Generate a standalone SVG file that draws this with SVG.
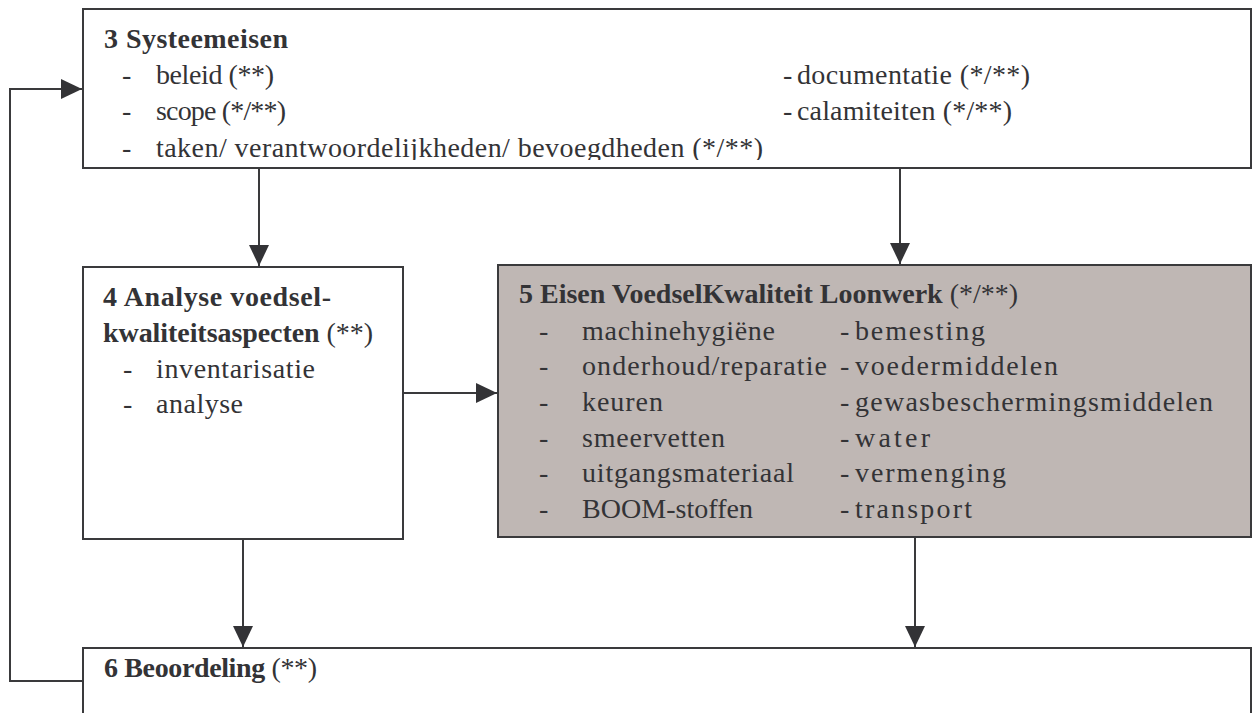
<svg xmlns="http://www.w3.org/2000/svg" width="1255" height="713" viewBox="0 0 1255 713">
<style>
.box{fill:#ffffff;stroke:#3a3a3c;stroke-width:2}
.shaded{fill:#bfb7b4}
.t{font-family:"Liberation Serif","Times New Roman",serif;font-size:28px;fill:#333336}
.b{font-weight:bold}
.con{fill:none;stroke:#3a3a3c;stroke-width:2}
</style>
<defs>
<marker id="ah" markerUnits="userSpaceOnUse" markerWidth="22" markerHeight="20" refX="21" refY="10" orient="auto">
<path d="M0,0 L21,10 L0,20 z" fill="#333336"/>
</marker>
<clipPath id="c3"><rect x="84" y="10" width="1166" height="150"/></clipPath>
</defs>
<g id="connectors">
<line class="con" x1="259" y1="168" x2="259" y2="266" marker-end="url(#ah)"/>
<line class="con" x1="900" y1="168" x2="900" y2="264" marker-end="url(#ah)"/>
<line class="con" x1="403" y1="393" x2="497" y2="393" marker-end="url(#ah)"/>
<line class="con" x1="243" y1="539" x2="243" y2="647" marker-end="url(#ah)"/>
<line class="con" x1="915" y1="537" x2="915" y2="647" marker-end="url(#ah)"/>
<polyline class="con" points="83,681 10,681 10,89 82,89" marker-end="url(#ah)"/>
</g>
<g id="node3">
<rect class="box" x="83" y="9" width="1168" height="159"/>
<text class="t b" x="104" y="48" textLength="184">3 Systeemeisen</text>
<g clip-path="url(#c3)">
<text class="t" x="122" y="84">-</text>
<text class="t" x="156" y="84" textLength="118">beleid (**)</text>
<text class="t" x="122" y="120">-</text>
<text class="t" x="156" y="120" textLength="130">scope (*/**)</text>
<text class="t" x="122" y="157">-</text>
<text class="t" x="156" y="157" textLength="607">taken/ verantwoordelijkheden/ bevoegdheden (*/**)</text>
<text class="t" x="783" y="84">-</text>
<text class="t" x="797" y="84" textLength="233">documentatie (*/**)</text>
<text class="t" x="783" y="120">-</text>
<text class="t" x="797" y="120" textLength="215">calamiteiten (*/**)</text>
</g>
</g>
<g id="node4">
<rect class="box" x="83" y="267" width="320" height="272"/>
<text class="t b" x="103" y="306" textLength="228">4 Analyse voedsel-</text>
<text class="t" x="103" y="342" textLength="270"><tspan class="b">kwaliteitsaspecten</tspan> (**)</text>
<text class="t" x="123" y="378">-</text>
<text class="t" x="156" y="378" textLength="159">inventarisatie</text>
<text class="t" x="123" y="413">-</text>
<text class="t" x="156" y="413" textLength="87">analyse</text>
</g>
<g id="node5">
<rect class="box shaded" x="498" y="265" width="753" height="272"/>
<text class="t" x="519" y="303" textLength="499"><tspan class="b">5 Eisen VoedselKwaliteit Loonwerk</tspan> (*/**)</text>
<text class="t" x="539" y="340">-</text>
<text class="t" x="582" y="340" textLength="193">machinehygiëne</text>
<text class="t" x="539" y="375">-</text>
<text class="t" x="582" y="375" textLength="245">onderhoud/reparatie</text>
<text class="t" x="539" y="411">-</text>
<text class="t" x="582" y="411" textLength="81">keuren</text>
<text class="t" x="539" y="447">-</text>
<text class="t" x="582" y="447" textLength="143">smeervetten</text>
<text class="t" x="539" y="482">-</text>
<text class="t" x="582" y="482" textLength="212">uitgangsmateriaal</text>
<text class="t" x="539" y="518">-</text>
<text class="t" x="582" y="518" textLength="171">BOOM-stoffen</text>
<text class="t" x="840" y="340">-</text>
<text class="t" x="855" y="340" textLength="130">bemesting</text>
<text class="t" x="840" y="375">-</text>
<text class="t" x="855" y="375" textLength="203">voedermiddelen</text>
<text class="t" x="840" y="411">-</text>
<text class="t" x="855" y="411" textLength="358">gewasbeschermingsmiddelen</text>
<text class="t" x="840" y="447">-</text>
<text class="t" x="855" y="447" textLength="75">water</text>
<text class="t" x="840" y="482">-</text>
<text class="t" x="855" y="482" textLength="151">vermenging</text>
<text class="t" x="840" y="518">-</text>
<text class="t" x="855" y="518" textLength="117">transport</text>
</g>
<g id="node6">
<rect class="box" x="83" y="648" width="1168" height="90"/>
<text class="t" x="104" y="677" textLength="213"><tspan class="b">6 Beoordeling</tspan> (**)</text>
</g>
</svg>
